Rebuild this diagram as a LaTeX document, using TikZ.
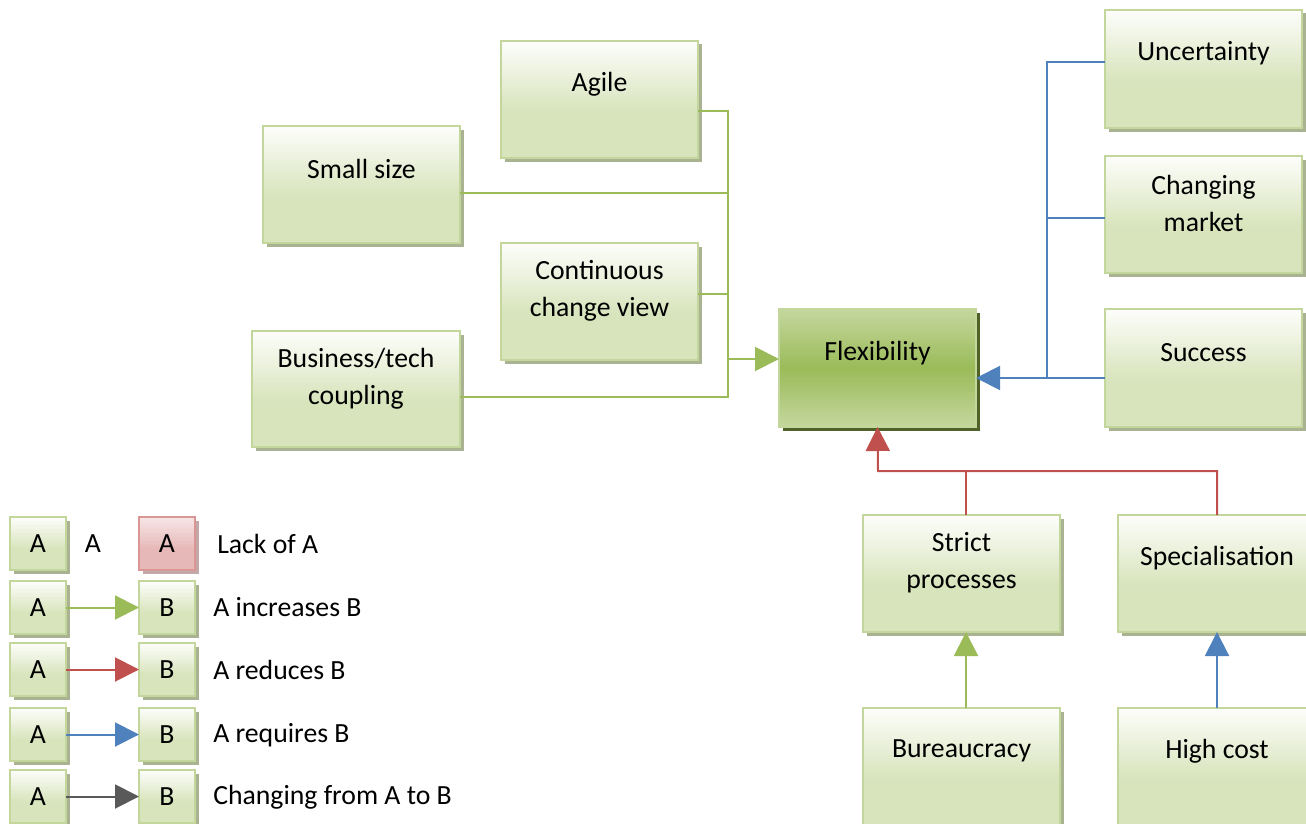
\documentclass[tikz,border=0pt]{standalone}
\usepackage{fontspec}
\setmainfont{Carlito}
\usetikzlibrary{arrows.meta,calc}

\definecolor{boxedge}{HTML}{C3D69B}
\definecolor{boxtop}{HTML}{FDFEFB}
\definecolor{boxbottom}{HTML}{D8E4BC}
\definecolor{boxshadow}{HTML}{A9B291}
\definecolor{flexlight}{HTML}{C4D79E}
\definecolor{flexmid}{HTML}{9BBB59}
\definecolor{flexshadow}{HTML}{4F6228}
\definecolor{rededge}{HTML}{D99694}
\definecolor{redtop}{HTML}{F7E6E6}
\definecolor{redbottom}{HTML}{E6B9B8}
\definecolor{redshadow}{HTML}{C4A8A7}
\definecolor{incgreen}{HTML}{9BBB59}
\definecolor{redline}{HTML}{C0504D}
\definecolor{blueline}{HTML}{4F81BD}
\definecolor{grayline}{HTML}{595959}

\pgfdeclarelayer{bg}
\pgfsetlayers{bg,main}

\newcommand\dgmfont{\fontsize{20.8}{27.8}\selectfont}

% vertical gradient inside a node, built from horizontal bands:
% #1 node, #2 top colour, #3 colour at fraction #5 from the top, #4 bottom colour
\newcommand\gradfill[5]{%
  \foreach \gi in {0,...,39}{%
    \pgfmathsetmacro\gpos{(\gi+0.5)/40}%
    \pgfmathtruncatemacro\gpct{\gpos<#5 ? 100*\gpos/#5 : 100*(\gpos-#5)/(1-#5)}%
    \ifdim\gpos pt<#5pt \colorlet{bandcol}{#3!\gpct!#2}\else\colorlet{bandcol}{#4!\gpct!#3}\fi
    \fill[bandcol] ($(#1.north west)!\gi/40!(#1.south west)$) rectangle (#1.south east);
  }}
% flat shadow offset to the lower right of a node
\newcommand\shadowof[3]{%
  \fill[#2] ([shift={(#3,#3)}]#1.north west) rectangle ([shift={(#3,#3)}]#1.south east);}

\begin{document}
\begin{tikzpicture}[x=0.75pt,y=-0.75pt,
  box/.style 2 args={draw=boxedge, line width=1.1pt,
    anchor=north west, inner sep=0pt, outer sep=0pt,
    minimum width=#1*0.75pt, minimum height=#2*0.75pt},
  lbl/.style={font=\dgmfont, align=center, inner sep=0pt, yshift=11.5pt},
  lbltwo/.style={font=\dgmfont, align=center, inner sep=0pt, yshift=8pt},
  keybox/.style={box={56}{53}, font=\dgmfont},
  keytext/.style={font=\dgmfont, inner sep=0pt, anchor=west},
  tip/.style={-{Triangle[length=18pt,width=18pt]}},
  gline/.style={draw=incgreen, line width=1.5pt},
  rline/.style={draw=redline, line width=1.5pt},
  bline/.style={draw=blueline, line width=1.5pt},
  kline/.style={draw=grayline, line width=1.5pt},
]
\useasboundingbox (0,0) rectangle (1306,824);
\clip (0,0) rectangle (1306,824);

% factors feeding flexibility
\node[box={197}{117}, label={[lbl]center:Agile}] (agile) at (501,41) {};
\node[box={197}{117}, label={[lbl]center:Small size}] (small) at (263,126) {};
\node[box={197}{117}, label={[lbltwo]center:Continuous\\change view}] (cont) at (501,243) {};
\node[box={208}{116}, label={[lbltwo]center:Business/tech\\coupling}] (biz) at (252,331) {};

\node[box={197}{118}, label={[lbl]center:Flexibility}] (flex) at (779,309) {};

\node[box={197}{118}, label={[lbl]center:Uncertainty}] (unc) at (1105,10) {};
\node[box={197}{117}, label={[lbltwo]center:Changing\\market}] (mkt) at (1105,156) {};
\node[box={197}{118}, label={[lbl]center:Success}] (succ) at (1105,309) {};

\node[box={197}{117}, label={[lbltwo]center:Strict\\processes}] (strict) at (863,515) {};
\node[box={198}{117}, label={[lbl]center:Specialisation}] (spec) at (1118,515) {};
\node[box={197}{117}, label={[lbl]center:Bureaucracy}] (bur) at (863,708) {};
\node[box={198}{117}, label={[lbl]center:High cost}] (cost) at (1118,708) {};

% key
\node[keybox] (k1a) at (10,517) {A};
\node[font=\dgmfont, inner sep=0pt] (k1t) at (93,544) {A};
\node[keybox, draw=rededge] (k1b) at (139,517) {A};
\node[keytext] (k1l) at (217,544) {Lack of A};

\node[keybox] (k2a) at (10,581) {A};
\node[keybox] (k2b) at (139,581) {B};
\node[keytext] (k2l) at (213,607) {A increases B};

\node[keybox] (k3a) at (10,643) {A};
\node[keybox] (k3b) at (139,643) {B};
\node[keytext] (k3l) at (213,670) {A reduces B};

\node[keybox] (k4a) at (10,708) {A};
\node[keybox] (k4b) at (139,708) {B};
\node[keytext] (k4l) at (213,735) {A requires B};

\node[keybox] (k5a) at (10,770) {A};
\node[keybox] (k5b) at (139,770) {B};
\node[keytext] (k5l) at (213,797) {Changing from A to B};

% shadows and gradient fills behind the boxes
\begin{pgfonlayer}{bg}
  \clip (0,0) rectangle (1306,824);
  \foreach \n in {agile,small,cont,biz,unc,mkt,succ,strict,spec,bur,cost,
                  k1a,k2a,k2b,k3a,k3b,k4a,k4b,k5a,k5b}{
    \shadowof{\n}{boxshadow}{3.5}
    \gradfill{\n}{boxtop}{boxbottom}{boxbottom}{0.6}
  }
  \shadowof{k1b}{redshadow}{3.5}
  \gradfill{k1b}{redtop}{redbottom}{redbottom}{0.6}
  \shadowof{flex}{flexshadow}{4}
  \gradfill{flex}{flexlight}{flexmid}{flexlight}{0.5}
\end{pgfonlayer}

% green trunk
\coordinate (ta) at (728,111);
\coordinate (ts) at (728,193);
\coordinate (tc) at (728,294);
\coordinate (tb) at (728,397);
\coordinate (tf) at (728,359);
\draw[gline] (agile.east |- ta) -- (ta) -- (tb) -- (biz.east |- tb);
\draw[gline] (small.east |- ts) -- (ts);
\draw[gline] (cont.east |- tc) -- (tc);
\draw[gline, tip] (tf) -- (flex.west |- tf);

% blue trunk
\coordinate (bu) at (1047,62);
\coordinate (bm) at (1047,218);
\coordinate (bs) at (1047,378);
\draw[bline] (unc.west |- bu) -- (bu) -- (bs);
\draw[bline] (mkt.west |- bm) -- (bm);
\draw[bline, tip] (succ.west |- bs) -- (flex.east |- bs);

% red trunk
\coordinate (rj) at (878,471);
\coordinate (rs) at (966,471);
\coordinate (rp) at (1217,471);
\draw[rline] (strict.north -| rs) -- (rs);
\draw[rline, tip] (spec.north -| rp) |- (rj) -- (flex.south);

% lower arrows
\draw[gline, tip] (bur.north -| rs) -- (strict.south -| rs);
\draw[bline, tip] (cost.north -| rp) -- (spec.south -| rp);

% key arrows
\draw[gline, tip] (k2a) -- (k2b);
\draw[rline, tip] (k3a) -- (k3b);
\draw[bline, tip] (k4a) -- (k4b);
\draw[kline, tip] (k5a) -- (k5b);
\end{tikzpicture}
\end{document}
